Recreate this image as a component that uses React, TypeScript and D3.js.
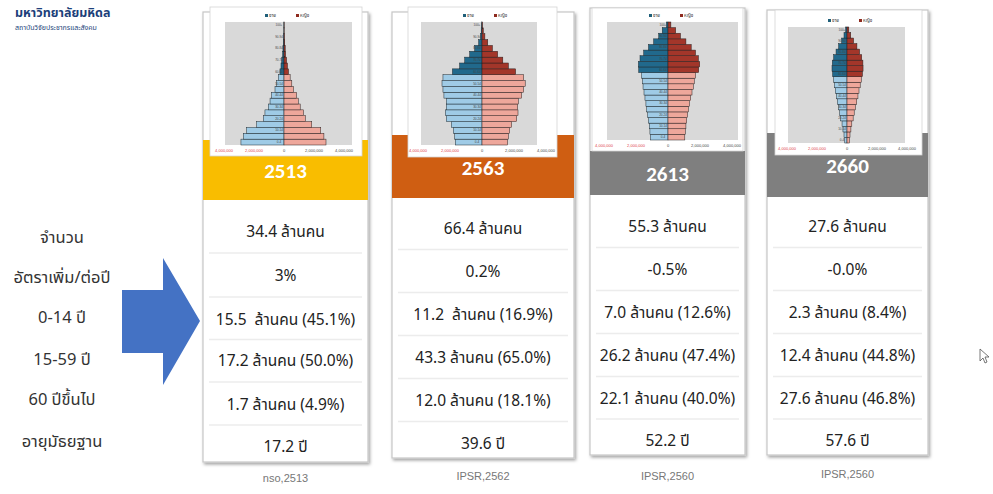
import React from 'react';
import * as d3 from 'd3';

// age groups, bottom to top
const ageGroups = [
  '0-4', '5-9', '10-14', '15-19', '20-24', '25-29', '30-34', '35-39', '40-44', '45-49',
  '50-54', '55-59', '60-64', '65-69', '70-74', '75-79', '80-84', '85-89', '90-94', '95-99', '100+',
];

// population by age group, millions
const male2513 = [2.87, 2.71, 2.49, 1.82, 1.38, 1.27, 1.05, 0.93, 0.82, 0.6, 0.49, 0.38, 0.27, 0.2, 0.15, 0.09, 0.07, 0.04, 0.02, 0.01, 0.01];
const female2513 = [2.8, 2.66, 2.45, 1.85, 1.42, 1.3, 1.08, 0.95, 0.84, 0.63, 0.52, 0.41, 0.3, 0.23, 0.17, 0.11, 0.08, 0.05, 0.03, 0.01, 0.01];
const male2563 = [1.67, 1.71, 1.79, 1.92, 2.23, 2.29, 2.23, 2.23, 2.38, 2.44, 2.5, 2.44, 1.85, 1.4, 1.08, 0.77, 0.46, 0.21, 0.1, 0.05, 0.02];
const female2563 = [1.6, 1.65, 1.73, 1.85, 2.17, 2.25, 2.23, 2.27, 2.48, 2.6, 2.7, 2.6, 2.1, 1.65, 1.3, 0.98, 0.65, 0.36, 0.18, 0.08, 0.03];
const male2613 = [1.1, 1.13, 1.17, 1.22, 1.27, 1.33, 1.38, 1.44, 1.5, 1.56, 1.6, 1.65, 1.83, 1.85, 1.75, 1.52, 1.22, 0.9, 0.58, 0.36, 0.1];
const female2613 = [1.05, 1.08, 1.12, 1.17, 1.22, 1.28, 1.34, 1.42, 1.5, 1.58, 1.64, 1.72, 1.92, 1.98, 1.9, 1.72, 1.45, 1.12, 0.78, 0.48, 0.18];
const male2660 = [0.15, 0.2, 0.27, 0.33, 0.42, 0.49, 0.56, 0.64, 0.71, 0.78, 0.84, 0.89, 0.96, 1.0, 0.98, 0.89, 0.73, 0.56, 0.36, 0.2, 0.09];
const female2660 = [0.15, 0.2, 0.26, 0.32, 0.41, 0.48, 0.56, 0.65, 0.73, 0.8, 0.88, 0.95, 1.03, 1.07, 1.06, 0.98, 0.84, 0.66, 0.44, 0.25, 0.12];

const years = ['2513', '2563', '2613', '2660'];
const rowLabels = ['จำนวน', 'อัตราเพิ่ม/ต่อปี', '0-14 ปี', '15-59 ปี', '60 ปีขึ้นไป', 'อายุมัธยฐาน'];
const totals = ['34.4 ล้านคน', '66.4 ล้านคน', '55.3 ล้านคน', '27.6 ล้านคน'];
const growth = ['3%', '0.2%', '-0.5%', '-0.0%'];
const age0to14 = ['15.5  ล้านคน (45.1%)', '11.2  ล้านคน (16.9%)', '7.0 ล้านคน (12.6%)', '2.3 ล้านคน (8.4%)'];
const age15to59 = ['17.2 ล้านคน (50.0%)', '43.3 ล้านคน (65.0%)', '26.2 ล้านคน (47.4%)', '12.4 ล้านคน (44.8%)'];
const age60plus = ['1.7 ล้านคน (4.9%)', '12.0 ล้านคน (18.1%)', '22.1 ล้านคน (40.0%)', '27.6 ล้านคน (46.8%)'];
const medianAge = ['17.2 ปี', '39.6 ปี', '52.2 ปี', '57.6 ปี'];
const sources = ['nso,2513', 'IPSR,2562', 'IPSR,2560', 'IPSR,2560'];
const axisTicks = [-4, -2, 0, 2, 4];

const maleSeries = [male2513, male2563, male2613, male2660];
const femaleSeries = [female2513, female2563, female2613, female2660];
const rowsByCard = years.map((_, i) => [totals[i], growth[i], age0to14[i], age15to59[i], age60plus[i], medianAge[i]]);

const THAI = "'Noto Sans Thai', Tahoma, 'Leelawadee UI', 'DejaVu Sans', sans-serif";

// card geometry
const cards = [
  { x: 203, y: 12, w: 165, h: 450, bandY: 140, bandH: 60, band: '#F9BD00', img: { x: 210, y: 7, w: 152, h: 149 },
    plot: { x0: 225, x1: 352, y0: 22, y1: 145 }, cx: 284, ppm: 15, rows: [232, 276, 320, 361, 405, 447], src: 478 },
  { x: 392, y: 12, w: 182, h: 446, bandY: 135, bandH: 63, band: '#CF5E12', img: { x: 408, y: 7, w: 149, h: 150 },
    plot: { x0: 421, x1: 537, y0: 22, y1: 145 }, cx: 482, ppm: 16, rows: [229, 272, 315, 358, 401, 444], src: 476 },
  { x: 590, y: 8, w: 155, h: 447, bandY: 151, bandH: 44, band: '#7F7F7F', img: { x: 592, y: 8, w: 151, h: 143 },
    plot: { x0: 607, x1: 738, y0: 22, y1: 140 }, cx: 668, ppm: 16, rows: [227, 270, 313, 356, 399, 441], src: 476 },
  { x: 767, y: 10, w: 161, h: 445, bandY: 133, bandH: 64, band: '#7F7F7F', img: { x: 775, y: 10, w: 147, h: 145 },
    plot: { x0: 788, x1: 905, y0: 27, y1: 143 }, cx: 847, ppm: 15, rows: [227, 270, 313, 356, 399, 441], src: 474 },
];

const Pyramid = ({ card, male, female }) => {
  const { img, plot, cx, ppm } = card;
  const x = d3.scaleLinear().domain([-4, 4]).range([cx - 4 * ppm, cx + 4 * ppm]);
  const y = d3.scaleBand().domain(ageGroups).range([plot.y1, plot.y0]);
  const fmt = d3.format(',');
  return (
    <g>
      <rect x={img.x} y={img.y} width={img.w} height={img.h} fill="#fff" stroke="#d4d4d4" strokeWidth={0.8} />
      <rect x={plot.x0} y={plot.y0} width={plot.x1 - plot.x0} height={plot.y1 - plot.y0} fill="#d9d9d9" />
      {/* legend */}
      <rect x={cx - 19} y={plot.y0 - 8} width={3} height={3} fill="#1f5f7a" />
      <text x={cx - 15} y={plot.y0 - 5} fontSize={4.5} fill="#333" fontFamily={THAI}>ชาย</text>
      <rect x={cx + 12} y={plot.y0 - 8} width={3} height={3} fill="#8e2a1f" />
      <text x={cx + 16} y={plot.y0 - 5} fontSize={4.5} fill="#333" fontFamily={THAI}>หญิง</text>
      {ageGroups.map((a, i) => (
        <g key={a}>
          <rect x={x(-male[i])} y={y(a)} width={x(0) - x(-male[i])} height={y.bandwidth()}
            fill={i >= 12 ? '#21698c' : '#9fcbe6'} stroke="#1e2a30" strokeWidth={0.5} />
          <rect x={x(0)} y={y(a)} width={x(female[i]) - x(0)} height={y.bandwidth()}
            fill={i >= 12 ? '#a3362a' : '#eea79b'} stroke="#2a1e1e" strokeWidth={0.5} />
        </g>
      ))}
      {ageGroups.map((a, i) => i % 2 === 0 ? (
        <text key={'l' + a} x={x(0) - 5} y={y(a) + y.bandwidth() / 2 + 1} fontSize={3} fill="#444"
          textAnchor="middle" fontFamily="Arial, sans-serif">{a}</text>
      ) : null)}
      {axisTicks.map((t) => (
        <text key={t} x={x(t)} y={plot.y1 + 6.5} fontSize={4} textAnchor="middle"
          fill={t < 0 ? '#e0404a' : '#444'} fontFamily="Arial, sans-serif">{fmt(Math.abs(t) * 1000000)}</text>
      ))}
    </g>
  );
};

const Card = ({ card, i }) => {
  const mid = card.x + card.w / 2;
  const seps = card.rows.slice(0, -1).map((r, k) => (r + card.rows[k + 1]) / 2 - 1);
  return (
    <g>
      <rect x={card.x} y={card.y} width={card.w} height={card.h} fill="#fff" stroke="#c6c6c6" strokeWidth={1.2}
        filter="url(#shadow)" />
      <rect x={card.x} y={card.bandY} width={card.w} height={card.bandH} fill={card.band} />
      <Pyramid card={card} male={maleSeries[i]} female={femaleSeries[i]} />
      <text x={mid} y={card.bandY + card.bandH / 2 + 8} textAnchor="middle" fill="#fff" fontSize={21}
        fontWeight="bold" fontFamily="Calibri, Carlito, 'Open Sans', sans-serif">{years[i]}</text>
      {seps.map((s, k) => (
        <line key={k} x1={card.x + 6} x2={card.x + card.w - 6} y1={s} y2={s} stroke="#ececec" strokeWidth={1.5} />
      ))}
      {rowsByCard[i].map((t, k) => (
        <text key={k} x={mid} y={card.rows[k] + 5} textAnchor="middle" fill="#222" fontSize={15.5}
          fontFamily={THAI} style={{ whiteSpace: 'pre' }}>{t}</text>
      ))}
      <text x={mid} y={card.src + 4} textAnchor="middle" fill="#777" fontSize={11}
        fontFamily="Arial, 'Liberation Sans', sans-serif">{sources[i]}</text>
    </g>
  );
};

const labelY = [238, 278, 318, 360, 400, 442];

export default function App() {
  return (
    <svg width={993} height={494} style={{ position: 'absolute', left: 0, top: 0, background: '#fff' }}>
      <defs>
        <filter id="shadow" x="-10%" y="-10%" width="120%" height="120%">
          <feDropShadow dx={1.5} dy={2} stdDeviation={1.5} floodColor="#000" floodOpacity={0.35} />
        </filter>
      </defs>
      <rect width={993} height={494} fill="#fff" />
      <text x={15} y={17} fontSize={12.5} fontWeight="bold" fill="#1c3f7a" fontFamily={THAI}>มหาวิทยาลัยมหิดล</text>
      <text x={15} y={30} fontSize={7} fill="#1c3f7a" fontFamily={THAI}>สถาบันวิจัยประชากรและสังคม</text>
      {rowLabels.map((l, k) => (
        <text key={l} x={62} y={labelY[k] + 5} textAnchor="middle" fontSize={16.5} fill="#333" fontFamily={THAI}>{l}</text>
      ))}
      <path d="M122,290 L163,290 L163,258 L200,321 L163,385 L163,353 L122,353 Z" fill="#4472C4" />
      {cards.map((c, i) => <Card key={years[i]} card={c} i={i} />)}
      <path d="M980,349 L980,361 L983,358 L985,363 L987,362 L985,357 L989,357 Z" fill="#fff" stroke="#555" strokeWidth={0.8} />
    </svg>
  );
}
